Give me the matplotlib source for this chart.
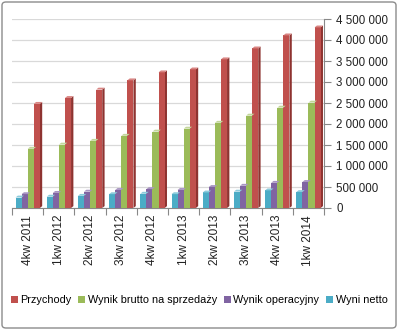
import matplotlib
matplotlib.use("Agg")
import matplotlib.pyplot as plt
from matplotlib.patches import Polygon, FancyBboxPatch
from matplotlib.ticker import FuncFormatter
import numpy as np

categories = ["4kw 2011", "1kw 2012", "2kw 2012", "3kw 2012", "4kw 2012",
              "1kw 2013", "2kw 2013", "3kw 2013", "4kw 2013", "1kw 2014"]

przychody = [2480000, 2620000, 2820000, 3040000, 3230000,
             3300000, 3540000, 3800000, 4110000, 4300000]
wynik_brutto = [1410000, 1510000, 1600000, 1720000, 1820000,
                1890000, 2030000, 2200000, 2390000, 2510000]
wynik_operacyjny = [330000, 360000, 390000, 430000, 450000,
                    430000, 500000, 530000, 600000, 620000]
wynik_netto = [250000, 270000, 290000, 330000, 340000,
               330000, 370000, 390000, 420000, 380000]

series_labels = ["Przychody", "Wynik brutto na sprzedaży",
                 "Wynik operacyjny", "Wyni netto"]
y_ticks = [0, 500000, 1000000, 1500000, 2000000, 2500000,
           3000000, 3500000, 4000000, 4500000]

colors = {
    "Przychody": ("#C0504D", "#8E3330", "#D98583"),
    "Wynik brutto na sprzedaży": ("#9BBB59", "#6F8A3A", "#C3D69B"),
    "Wynik operacyjny": ("#8064A2", "#5A4478", "#A895C2"),
    "Wyni netto": ("#4BACC6", "#2F7F94", "#8DCBDC"),
}

plt.rcParams["font.family"] = ["Liberation Sans", "DejaVu Sans"]

fig = plt.figure(figsize=(3.98, 3.30), dpi=100)
ax = fig.add_axes([12 / 398, 122 / 330, 312 / 398, 189 / 330])

x = np.arange(len(categories))
width = 0.195
depth_x = 0.075
depth_y = 45000

# front-to-back drawing order: netto, operacyjny, brutto, przychody
draw_order = [("Wyni netto", wynik_netto, -0.29),
              ("Wynik operacyjny", wynik_operacyjny, -0.095),
              ("Wynik brutto na sprzedaży", wynik_brutto, 0.10),
              ("Przychody", przychody, 0.295)]

handles = {}
for name, vals, off in draw_order:
    front, side, top = colors[name]
    bars = ax.bar(x + off, vals, width, color=front, edgecolor="none",
                  zorder=3, label=name)
    handles[name] = bars
    for rect in bars:
        x0 = rect.get_x()
        x1 = x0 + rect.get_width()
        h = rect.get_height()
        ax.add_patch(Polygon([(x1, 0), (x1 + depth_x, depth_y),
                              (x1 + depth_x, h + depth_y), (x1, h)],
                             closed=True, facecolor=side, edgecolor="none",
                             zorder=2.9))
        ax.add_patch(Polygon([(x0, h), (x1, h), (x1 + depth_x, h + depth_y),
                              (x0 + depth_x, h + depth_y)],
                             closed=True, facecolor=top, edgecolor="none",
                             zorder=3.1))

ax.set_xlim(-0.5, len(categories) - 0.5)
ax.set_ylim(0, 4500000)
ax.set_yticks(y_ticks)
ax.yaxis.set_major_formatter(FuncFormatter(
    lambda v, p: f"{int(v):,}".replace(",", " ")))
ax.yaxis.tick_right()
ax.grid(axis="y", color="#D9D9D9", linewidth=0.9, zorder=0)
ax.set_axisbelow(True)

ax.set_xticks(np.arange(-0.5, len(categories), 1.0), minor=False)
ax.set_xticklabels([])
ax.set_xticks(x, minor=True)
ax.set_xticklabels(categories, minor=True, rotation=90, fontsize=8.5,
                   color="#222222")
ax.tick_params(axis="x", which="minor", length=0, pad=5)
ax.tick_params(axis="x", which="major", length=5, color="#888888")
ax.tick_params(axis="y", length=5, color="#888888", labelsize=8.3,
               labelcolor="#222222", pad=4)

for s in ["top", "left"]:
    ax.spines[s].set_visible(False)
ax.spines["right"].set_color("#888888")
ax.spines["bottom"].set_color("#888888")
ax.patch.set_alpha(0)

leg_order = ["Przychody", "Wynik brutto na sprzedaży",
             "Wynik operacyjny", "Wyni netto"]
fig.legend([handles[n] for n in leg_order], leg_order, ncol=4,
           loc="center", bbox_to_anchor=(0.5, 30 / 330), frameon=False,
           fontsize=7.8, handlelength=0.65, handleheight=0.65,
           handletextpad=0.25, columnspacing=0.6, borderaxespad=0,
           borderpad=0)

fig.patches.append(FancyBboxPatch((2 / 398, 2 / 330), 394 / 398, 326 / 330,
                                  boxstyle="round,pad=0,rounding_size=0.01",
                                  transform=fig.transFigure, fill=False,
                                  edgecolor="#8C8C8C", linewidth=1.0))

fig.savefig("out.png", dpi=100)
